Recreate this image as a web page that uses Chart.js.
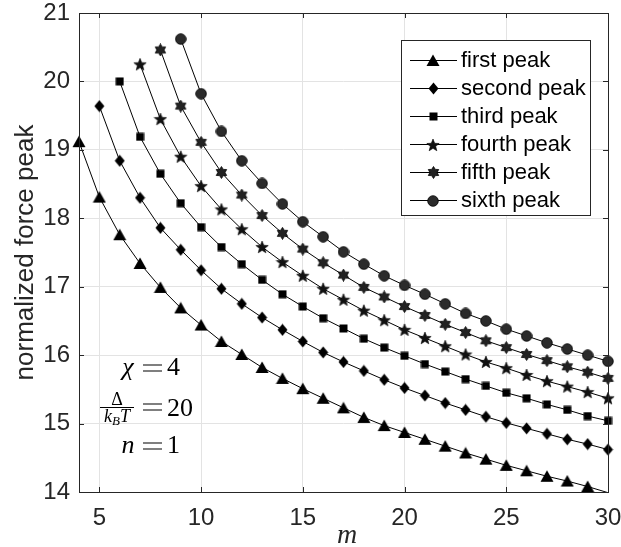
<!DOCTYPE html>
<html>
<head>
<meta charset="utf-8">
<script src="https://cdn.jsdelivr.net/npm/chart.js@4.4.0/dist/chart.umd.min.js"></script>
<style>
  html, body { margin: 0; padding: 0; background: #fff; }
</style>
</head>
<body>
<canvas id="peakChart" width="621" height="547"></canvas>
<script>
// m values on the x axis
const m = [4, 5, 6, 7, 8, 9, 10, 11, 12, 13, 14, 15, 16, 17, 18, 19, 20, 21, 22, 23, 24, 25, 26, 27, 28, 29, 30];
const xTicks = [5, 10, 15, 20, 25, 30];
const yTicks = [14, 15, 16, 17, 18, 19, 20, 21];

const peakNames = ['first peak', 'second peak', 'third peak', 'fourth peak', 'fifth peak', 'sixth peak'];
// first m value of each series
const peakStart = [4, 5, 6, 7, 8, 9];

const firstPeak = [19.12, 18.31, 17.76, 17.34, 16.99, 16.69, 16.44, 16.20, 16.01, 15.82, 15.66, 15.51, 15.37, 15.23, 15.09, 14.97, 14.87, 14.77, 14.67, 14.57, 14.48, 14.39, 14.31, 14.23, 14.16, 14.08, 13.99];
const secondPeak = [19.64, 18.84, 18.30, 17.86, 17.54, 17.24, 16.97, 16.75, 16.55, 16.37, 16.20, 16.04, 15.90, 15.77, 15.64, 15.52, 15.41, 15.30, 15.20, 15.10, 15.01, 14.93, 14.85, 14.77, 14.70, 14.62];
const thirdPeak = [20.00, 19.19, 18.65, 18.22, 17.87, 17.58, 17.33, 17.10, 16.89, 16.71, 16.54, 16.39, 16.24, 16.11, 15.99, 15.87, 15.76, 15.65, 15.55, 15.45, 15.37, 15.28, 15.20, 15.11, 15.04];
const fourthPeak = [20.25, 19.45, 18.90, 18.47, 18.13, 17.84, 17.58, 17.36, 17.16, 16.97, 16.81, 16.65, 16.51, 16.37, 16.25, 16.13, 16.01, 15.90, 15.81, 15.71, 15.62, 15.54, 15.46, 15.37];
const fifthPeak = [20.46, 19.64, 19.11, 18.67, 18.34, 18.04, 17.78, 17.55, 17.35, 17.17, 16.99, 16.85, 16.71, 16.58, 16.45, 16.33, 16.21, 16.11, 16.01, 15.92, 15.83, 15.75, 15.66];
const sixthPeak = [20.62, 19.82, 19.27, 18.84, 18.51, 18.21, 17.95, 17.73, 17.51, 17.33, 17.16, 17.02, 16.89, 16.75, 16.61, 16.50, 16.38, 16.28, 16.18, 16.09, 16.00, 15.91];

const peakValues = [firstPeak, secondPeak, thirdPeak, fourthPeak, fifthPeak, sixthPeak];

// ---- marker images (MATLAB style) ----
function markerCanvas(w, h, draw) {
  const c = document.createElement('canvas');
  c.width = w;
  c.height = h;
  draw(c.getContext('2d'), w / 2, h / 2);
  return c;
}

function starPath(g, cx, cy, n, ro, ri) {
  g.beginPath();
  for (let i = 0; i < 2 * n; i++) {
    const r = i % 2 ? ri : ro;
    const a = -Math.PI / 2 + i * Math.PI / n;
    g.lineTo(cx + r * Math.cos(a), cy + r * Math.sin(a));
  }
  g.closePath();
}

const markers = [
  markerCanvas(14, 13, (g) => {
    g.beginPath();
    g.moveTo(7, 0.5); g.lineTo(13.5, 12); g.lineTo(0.5, 12);
    g.closePath();
    g.fillStyle = '#000'; g.fill();
  }),
  markerCanvas(11, 13, (g) => {
    g.beginPath();
    g.moveTo(5.5, 0.5); g.lineTo(10.5, 6.5); g.lineTo(5.5, 12.5); g.lineTo(0.5, 6.5);
    g.closePath();
    g.fillStyle = '#000'; g.fill();
  }),
  markerCanvas(9, 9, (g) => {
    g.fillStyle = '#000'; g.fillRect(0.5, 0.5, 8, 8);
  }),
  markerCanvas(14, 14, (g, cx, cy) => {
    starPath(g, cx, cy + 0.5, 5, 6.5, 2.8);
    g.fillStyle = '#111'; g.fill();
    g.strokeStyle = '#000'; g.lineWidth = 0.6; g.stroke();
  }),
  markerCanvas(13, 13, (g, cx, cy) => {
    starPath(g, cx, cy, 6, 6, 3.6);
    g.fillStyle = '#222'; g.fill();
    g.strokeStyle = '#000'; g.lineWidth = 0.8; g.stroke();
  }),
  markerCanvas(12, 12, (g, cx, cy) => {
    g.beginPath(); g.arc(cx, cy, 5.3, 0, Math.PI * 2);
    g.fillStyle = '#2b2b2b'; g.fill();
    g.strokeStyle = '#000'; g.lineWidth = 0.8; g.stroke();
  })
];

const datasets = peakValues.map((vals, k) => {
  const i0 = m.indexOf(peakStart[k]);
  return {
    label: peakNames[k],
    data: vals.map((v, i) => ({ x: m[i0 + i], y: v })),
    borderColor: '#000',
    borderWidth: 1,
    tension: 0,
    clip: false,
    pointStyle: (ctx) => (ctx.raw && ctx.raw.y < yTicks[0]) ? false : markers[k],
    pointRadius: 6
  };
});

// ---- text helpers ----
function drawRuns(ctx, runs, x, y, align) {
  let w = 0;
  runs.forEach(r => { ctx.font = r.font; w += ctx.measureText(r.t).width; });
  let cx = align === 'center' ? x - w / 2 : x;
  runs.forEach(r => {
    ctx.font = r.font;
    ctx.fillText(r.t, cx, y + (r.dy || 0));
    cx += ctx.measureText(r.t).width;
  });
  return w;
}

// "lhs = value" with a drawn equals sign, LaTeX-like spacing
function drawEquation(ctx, lhsRuns, value, baseY) {
  drawRuns(ctx, lhsRuns, 128, baseY, 'center');
  const eqY = baseY - 7;
  ctx.beginPath();
  ctx.moveTo(143, eqY - 3); ctx.lineTo(162, eqY - 3);
  ctx.moveTo(143, eqY + 3); ctx.lineTo(162, eqY + 3);
  ctx.lineWidth = 1.2;
  ctx.strokeStyle = '#000';
  ctx.stroke();
  drawRuns(ctx, [{ t: value, font: '26px ' + serif }], 167, baseY, 'left');
}

const serif = '"Liberation Serif", "DejaVu Serif", serif';
const sans = '"Liberation Sans", Arial, sans-serif';

const framePlugin = {
  id: 'frame',
  afterDraw(chart) {
    const ctx = chart.ctx;
    const a = chart.chartArea;
    const xs = chart.scales.x, ys = chart.scales.y;
    ctx.save();

    // axes box
    ctx.strokeStyle = '#262626';
    ctx.lineWidth = 1;
    ctx.strokeRect(Math.round(a.left) + 0.5, Math.round(a.top) + 0.5,
      Math.round(a.right - a.left), Math.round(a.bottom - a.top));

    // inner tick marks
    ctx.beginPath();
    xTicks.forEach(v => {
      const px = Math.round(xs.getPixelForValue(v)) + 0.5;
      ctx.moveTo(px, a.bottom); ctx.lineTo(px, a.bottom - 5);
      ctx.moveTo(px, a.top); ctx.lineTo(px, a.top + 5);
    });
    yTicks.forEach(v => {
      const py = Math.round(ys.getPixelForValue(v)) + 0.5;
      ctx.moveTo(a.left, py); ctx.lineTo(a.left + 5, py);
      ctx.moveTo(a.right, py); ctx.lineTo(a.right - 5, py);
    });
    ctx.stroke();

    // axis titles
    ctx.fillStyle = '#262626';
    ctx.save();
    ctx.translate(33, (a.top + a.bottom) / 2);
    ctx.rotate(-Math.PI / 2);
    ctx.font = '26px ' + sans;
    ctx.textAlign = 'center';
    ctx.textBaseline = 'alphabetic';
    ctx.fillText('normalized force peak', 0, 0);
    ctx.restore();

    ctx.textAlign = 'left';
    ctx.textBaseline = 'alphabetic';
    ctx.fillStyle = '#262626';
    drawRuns(ctx, [{ t: 'm', font: 'italic 28px ' + serif }], 347, 543, 'center');

    // legend
    const lx = a.right - 207, ly = a.top + 27, lw = 189, lh = 175;
    ctx.fillStyle = '#fff';
    ctx.fillRect(lx, ly, lw, lh);
    ctx.strokeStyle = '#262626';
    ctx.strokeRect(lx + 0.5, ly + 0.5, lw, lh);
    ctx.font = '22px ' + sans;
    ctx.textBaseline = 'middle';
    peakNames.forEach((name, k) => {
      const ry = Math.round(ly + 19.5 + k * 28.1);
      ctx.strokeStyle = '#000';
      ctx.beginPath();
      ctx.moveTo(lx + 9, ry + 0.5); ctx.lineTo(lx + 56, ry + 0.5);
      ctx.stroke();
      const mk = markers[k];
      ctx.drawImage(mk, Math.round(lx + 32 - mk.width / 2), Math.round(ry - mk.height / 2 + 0.5));
      ctx.fillStyle = '#000';
      ctx.fillText(name, lx + 60, ry + 1);
    });

    // parameter annotations
    ctx.fillStyle = '#000';
    ctx.textBaseline = 'alphabetic';
    drawEquation(ctx, [{ t: 'χ', font: 'italic 26px ' + serif }], '4', 375);

    // Δ / (k_B T) = 20
    const barY = 407.5;
    const fl = 100, fr = 134;
    ctx.beginPath();
    ctx.lineWidth = 1;
    ctx.strokeStyle = '#000';
    ctx.moveTo(fl, barY); ctx.lineTo(fr, barY);
    ctx.stroke();
    drawRuns(ctx, [{ t: 'Δ', font: '18px ' + serif }], (fl + fr) / 2, barY - 3, 'center');
    drawRuns(ctx, [
      { t: 'k', font: 'italic 18px ' + serif },
      { t: 'B', font: 'italic 13px ' + serif, dy: 3 },
      { t: 'T', font: 'italic 18px ' + serif }
    ], (fl + fr) / 2, barY + 14, 'center');
    // only the right-hand side of the fraction line
    const eqY = 407;
    ctx.beginPath();
    ctx.moveTo(143, eqY - 3); ctx.lineTo(162, eqY - 3);
    ctx.moveTo(143, eqY + 3); ctx.lineTo(162, eqY + 3);
    ctx.lineWidth = 1.2;
    ctx.stroke();
    drawRuns(ctx, [{ t: '20', font: '26px ' + serif }], 167, 416, 'left');

    drawEquation(ctx, [{ t: 'n', font: 'italic 26px ' + serif }], '1', 453);

    ctx.restore();
  }
};

const tickFont = { family: sans, size: 24 };

new Chart(document.getElementById('peakChart'), {
  type: 'line',
  data: { datasets: datasets },
  options: {
    responsive: false,
    animation: false,
    layout: { padding: { top: 13, right: 13, left: 0, bottom: 0 } },
    plugins: {
      legend: { display: false },
      tooltip: { enabled: false }
    },
    scales: {
      x: {
        type: 'linear',
        min: 4,
        max: 30,
        afterBuildTicks: (s) => { s.ticks = xTicks.map(v => ({ value: v })); },
        afterFit: (s) => { s.height = 55; s.paddingLeft = 0; s.paddingRight = 0; },
        grid: { color: '#e3e3e3', drawTicks: false },
        border: { display: false },
        ticks: { font: tickFont, color: '#262626', padding: 12, maxRotation: 0, autoSkip: false }
      },
      y: {
        min: 14,
        max: 21,
        afterBuildTicks: (s) => { s.ticks = yTicks.map(v => ({ value: v })); },
        afterFit: (s) => { s.width = 79; s.paddingTop = 0; s.paddingBottom = 0; },
        grid: { color: '#e3e3e3', drawTicks: false },
        border: { display: false },
        ticks: { font: tickFont, color: '#262626', padding: 9, autoSkip: false }
      }
    }
  },
  plugins: [framePlugin]
});
</script>
</body>
</html>
